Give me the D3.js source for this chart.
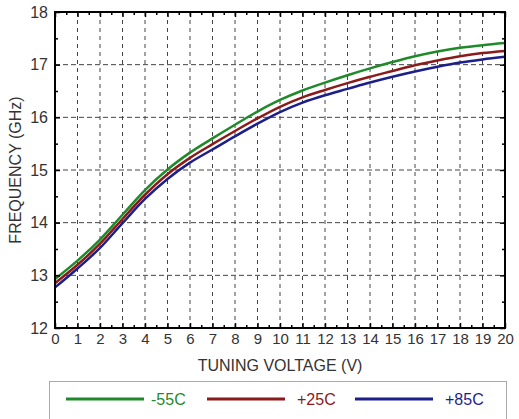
<!DOCTYPE html>
<html>
<head>
<meta charset="utf-8">
<script src="https://cdn.jsdelivr.net/npm/d3@7"></script>
<style>
  body { margin: 0; background: #fff; }
  text { font-family: "Liberation Sans", Arial, sans-serif; }
</style>
</head>
<body>
<script>
var width = 519,
    height = 419;

// tuning voltage (V)
var voltage = [0,1,2,3,4,5,6,7,8,9,10,11,12,13,14,15,16,17,18,19,20];
// frequency (GHz) per temperature
var freqM55 = [12.93,13.28,13.68,14.15,14.62,15.01,15.33,15.60,15.86,16.11,16.33,16.51,16.66,16.80,16.93,17.05,17.16,17.25,17.32,17.37,17.41];
var freqP25 = [12.85,13.20,13.60,14.07,14.53,14.92,15.23,15.49,15.74,15.98,16.20,16.38,16.52,16.65,16.77,16.88,16.99,17.08,17.16,17.22,17.26];
var freqP85 = [12.77,13.13,13.52,13.99,14.45,14.83,15.14,15.39,15.64,15.88,16.10,16.28,16.42,16.54,16.66,16.77,16.87,16.96,17.04,17.10,17.15];
var seriesNames = ["-55C", "+25C", "+85C"];
var seriesColors = ["#1f8a2a", "#8b1a1a", "#1c1f8a"];
var xTicks = d3.range(0, 21, 1);
var yTicks = [12, 13, 14, 15, 16, 17, 18];

var margin = {top: 12, right: 14, bottom: 91, left: 55};
var plotW = width - margin.left - margin.right,
    plotH = height - margin.top - margin.bottom;

var svg = d3.select("body").append("svg")
    .attr("width", width)
    .attr("height", height);

var g = svg.append("g")
    .attr("transform", "translate(" + margin.left + "," + margin.top + ")");

var x = d3.scaleLinear().domain([0, 20]).range([0, plotW]);
var y = d3.scaleLinear().domain([12, 18]).range([plotH, 0]);

// grid
g.append("g").selectAll("line")
    .data(xTicks.slice(1, -1))
    .enter().append("line")
    .attr("x1", function(d) { return x(d); })
    .attr("x2", function(d) { return x(d); })
    .attr("y1", 0).attr("y2", plotH)
    .style("stroke", "#444")
    .style("stroke-width", 1)
    .style("stroke-dasharray", "4,4");

g.append("g").selectAll("line")
    .data(yTicks.slice(1, -1))
    .enter().append("line")
    .attr("y1", function(d) { return y(d); })
    .attr("y2", function(d) { return y(d); })
    .attr("x1", 0).attr("x2", plotW)
    .style("stroke", "#444")
    .style("stroke-width", 1)
    .style("stroke-dasharray", "5,3");

// curves
var line = d3.line()
    .x(function(d) { return x(d[0]); })
    .y(function(d) { return y(d[1]); })
    .curve(d3.curveMonotoneX);

[freqM55, freqP25, freqP85].forEach(function(vals, i) {
  g.append("path")
    .datum(voltage.map(function(v, j) { return [v, vals[j]]; }))
    .attr("d", line)
    .style("fill", "none")
    .style("stroke", seriesColors[i])
    .style("stroke-width", 2.5);
});

// axes with inward ticks
var minorX = d3.range(0.5, 20, 1);
var minorY = d3.range(12.5, 18, 1);

var xAxis = g.append("g").attr("transform", "translate(0," + plotH + ")")
    .call(d3.axisBottom(x).tickValues(xTicks).tickSizeInner(-5).tickSizeOuter(0).tickPadding(5));
var yAxis = g.append("g")
    .call(d3.axisLeft(y).tickValues(yTicks).tickFormat(d3.format("d")).tickSizeInner(-5).tickSizeOuter(0).tickPadding(7));
g.append("g")
    .call(d3.axisTop(x).tickValues(xTicks).tickSizeInner(-5).tickSizeOuter(0).tickFormat(""));
g.append("g").attr("transform", "translate(" + plotW + ",0)")
    .call(d3.axisRight(y).tickValues(yTicks).tickSizeInner(-5).tickSizeOuter(0).tickFormat(""));

g.append("g").attr("transform", "translate(0," + plotH + ")")
    .call(d3.axisBottom(x).tickValues(minorX).tickSizeInner(-3).tickSizeOuter(0).tickFormat(""));
g.append("g")
    .call(d3.axisTop(x).tickValues(minorX).tickSizeInner(-3).tickSizeOuter(0).tickFormat(""));
g.append("g")
    .call(d3.axisLeft(y).tickValues(minorY).tickSizeInner(-3).tickSizeOuter(0).tickFormat(""));
g.append("g").attr("transform", "translate(" + plotW + ",0)")
    .call(d3.axisRight(y).tickValues(minorY).tickSizeInner(-3).tickSizeOuter(0).tickFormat(""));

g.selectAll(".domain").remove();
g.selectAll(".tick line").style("stroke", "#000").style("stroke-width", 1.5);
xAxis.selectAll(".tick text").style("font-size", "15px").style("fill", "#333");
yAxis.selectAll(".tick text").style("font-size", "16px").style("fill", "#333");

// frame
g.append("rect")
    .attr("width", plotW)
    .attr("height", plotH)
    .style("fill", "none")
    .style("stroke", "#000")
    .style("stroke-width", 2);

// axis titles
svg.append("text")
    .attr("x", margin.left + plotW / 2)
    .attr("y", 371)
    .attr("text-anchor", "middle")
    .style("font-size", "16px")
    .style("fill", "#333")
    .text("TUNING VOLTAGE (V)");

svg.append("text")
    .attr("transform", "translate(21," + (margin.top + plotH / 2) + ") rotate(-90)")
    .attr("text-anchor", "middle")
    .style("font-size", "16px")
    .style("fill", "#333")
    .text("FREQUENCY (GHz)");

// legend
svg.append("rect")
    .attr("x", 49.5).attr("y", 381.5)
    .attr("width", 457).attr("height", 45)
    .style("fill", "#fff")
    .style("stroke", "#aaa");

var legendX = [66, 207, 355];
var legend = svg.selectAll(".leg")
    .data(seriesNames)
    .enter().append("g")
    .attr("class", "leg")
    .attr("transform", function(d, i) { return "translate(" + legendX[i] + ",399)"; });

legend.append("line")
    .attr("x1", 0).attr("x2", 78)
    .style("stroke", function(d, i) { return seriesColors[i]; })
    .style("stroke-width", 3);

legend.append("text")
    .attr("x", function(d, i) { return i == 0 ? 85 : 90; })
    .attr("dy", "0.35em")
    .style("font-size", "16px")
    .style("fill", function(d, i) { return seriesColors[i]; })
    .text(function(d) { return d; });
</script>
</body>
</html>
